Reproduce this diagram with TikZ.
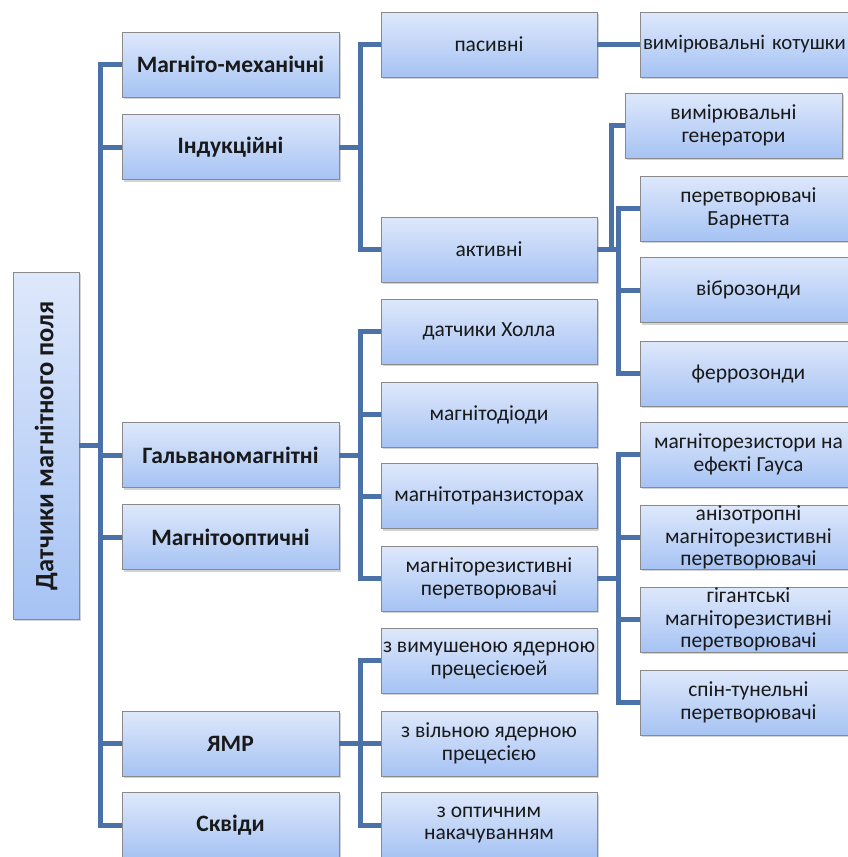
\documentclass[tikz,border=0pt]{standalone}
\usepackage{fontspec}
\setmainfont{Carlito}
\usetikzlibrary{shadows}
\definecolor{btop}{HTML}{DEE8FB}
\definecolor{bbot}{HTML}{A6C3F4}
\definecolor{bdr}{HTML}{8A8A8A}
\definecolor{lnk}{HTML}{4A72A8}
\tikzset{
  box/.style={draw=bdr, line width=0.8pt, top color=btop, bottom color=bbot,
    drop shadow={shadow xshift=1.5pt, shadow yshift=-2pt, opacity=0.35},
    minimum height=65pt, inner sep=0pt, align=center,
    font=\fontsize{21.5}{22.5}\selectfont, text=black!90},
  lone/.style={box, minimum width=217pt, font=\fontsize{23.5}{22.5}\selectfont\bfseries},
  ltwo/.style={box, minimum width=216pt},
  lthree/.style={box, minimum width=217pt},
  conn/.style={draw=lnk, line width=5pt}
}
\begin{document}
\begin{tikzpicture}[x=1pt,y=-1pt]
\useasboundingbox (0,0) rectangle (847,857);
% root
\node[box, rotate=90, minimum width=347pt, minimum height=66pt,
  font=\fontsize{26.5}{26}\selectfont\bfseries] (root) at (46,445.5) {Датчики магнітного поля};
% level 1
\node[lone] (mm) at (230.5,64.5) {Магніто-механічні};
\node[lone] (ind) at (230.5,147) {Індукційні};
\node[lone] (galv) at (230.5,455) {Гальваномагнітні};
\node[lone] (mo) at (230.5,537) {Магнітооптичні};
\node[lone] (ymr) at (230.5,743.5) {ЯМР};
\node[lone] (skv) at (230.5,825) {Сквіди};
% level 2
\node[ltwo] (pas) at (489,44.5) {пасивні};
\node[ltwo] (akt) at (489,249.5) {активні};
\node[ltwo] (hol) at (489,331.5) {датчики Холла};
\node[ltwo] (diod) at (489,414.5) {магнітодіоди};
\node[ltwo] (tranz) at (489,496) {магнітотранзисторах};
\node[ltwo] (mr) at (489,578.5) {магніторезистивні\\перетворювачі};
\node[ltwo] (vym) at (489,660.5) {з вимушеною ядерною\\прецесієюей};
\node[ltwo] (vil) at (489,743.5) {з вільною ядерною\\прецесією};
\node[ltwo] (opt) at (489,825) {з оптичним\\накачуванням};
% level 3
\node[lthree, text width=211pt, align=left, font=\fontsize{20.8}{22.5}\selectfont] (kot) at (748.5,44.5) {\mbox{вимірювальні котушки}};
\node[lthree] (gen) at (733.5,125.5) {вимірювальні\\генератори};
\node[lthree] (barn) at (748.5,208.5) {перетворювачі\\Барнетта};
\node[lthree] (vib) at (748.5,290) {віброзонди};
\node[lthree] (fer) at (748.5,373.5) {феррозонди};
\node[lthree] (gaus) at (748.5,454.5) {магніторезистори на\\ефекті Гауса};
\node[lthree, minimum height=63pt] (aniz) at (748.5,537.5) {анізотропні\\магніторезистивні\\перетворювачі};
\node[lthree] (gig) at (748.5,619.5) {гігантські\\магніторезистивні\\перетворювачі};
\node[lthree] (spin) at (748.5,702.5) {спін-тунельні\\перетворювачі};
% trunk coordinates
\coordinate (t1) at (100,0);
\coordinate (t2) at (360,0);
\coordinate (t3) at (611,0);
\coordinate (t4) at (618,0);
% connectors
\draw[conn] (root.south) -- (root.south -| t1);
\draw[conn] (mm.west) -- (mm.west -| t1) -- (skv.west -| t1) -- (skv.west);
\draw[conn] (ind.west) -- (ind.west -| t1);
\draw[conn] (galv.west) -- (galv.west -| t1);
\draw[conn] (mo.west) -- (mo.west -| t1);
\draw[conn] (ymr.west) -- (ymr.west -| t1);
% inductive
\draw[conn] (ind.east) -- (ind.east -| t2);
\draw[conn] (pas.west) -- (pas.west -| t2) -- (akt.west -| t2) -- (akt.west);
% galvanomagnetic
\draw[conn] (galv.east) -- (galv.east -| t2);
\draw[conn] (hol.west) -- (hol.west -| t2) -- (mr.west -| t2) -- (mr.west);
\draw[conn] (diod.west) -- (diod.west -| t2);
\draw[conn] (tranz.west) -- (tranz.west -| t2);
% NMR
\draw[conn] (ymr.east) -- (ymr.east -| t2);
\draw[conn] (vym.west) -- (vym.west -| t2) -- (opt.west -| t2) -- (opt.west);
\draw[conn] (vil.west) -- (vil.west -| t2);
% passive
\draw[conn] (pas.east) -- (kot.west);
% active
\draw[conn] (akt.east) -- (akt.east -| t4);
\draw[conn] (gen.west) -- (gen.west -| t3) -- (akt.east -| t3);
\draw[conn] (barn.west) -- (barn.west -| t4) -- (fer.west -| t4) -- (fer.west);
\draw[conn] (vib.west) -- (vib.west -| t4);
% magnetoresistive
\draw[conn] (mr.east) -- (mr.east -| t4);
\draw[conn] (gaus.west) -- (gaus.west -| t4) -- (spin.west -| t4) -- (spin.west);
\draw[conn] (aniz.west) -- (aniz.west -| t4);
\draw[conn] (gig.west) -- (gig.west -| t4);
\end{tikzpicture}
\end{document}
